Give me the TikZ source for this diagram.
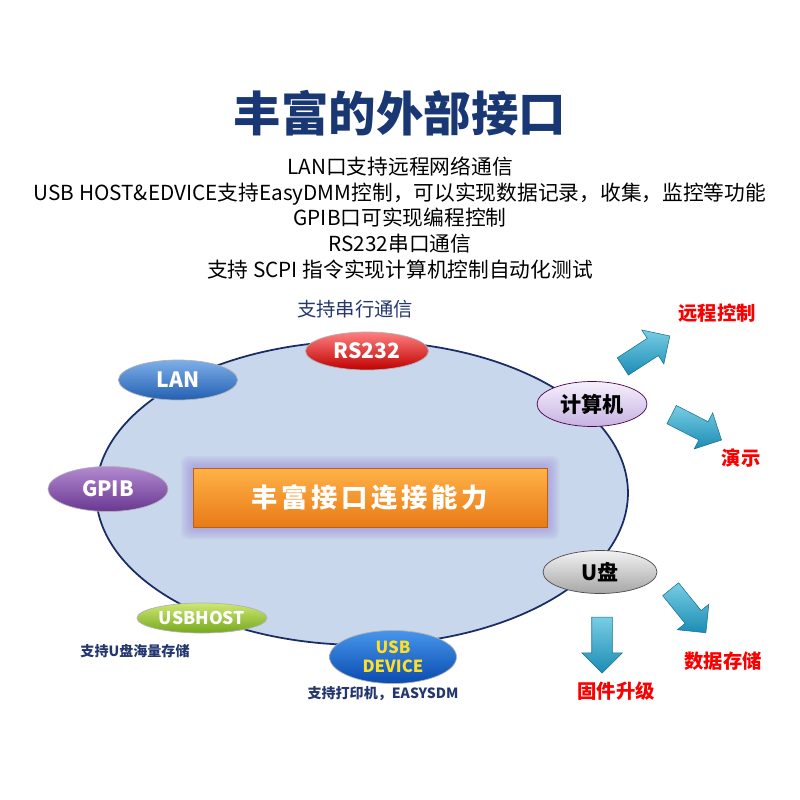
\documentclass[tikz,border=0pt]{standalone}
\usepackage{fontspec}
\setmainfont{Noto Sans CJK SC}
\usetikzlibrary{shapes.geometric,shapes.arrows,positioning}
\definecolor{titleblue}{RGB}{25,55,115}
\definecolor{notenavy}{RGB}{35,55,110}
\definecolor{ringfill}{RGB}{200,215,235}
\definecolor{ringline}{RGB}{25,45,100}
\definecolor{glowpurple}{RGB}{150,125,215}
\definecolor{boxtop}{RGB}{255,178,72}
\definecolor{boxbot}{RGB}{232,122,22}
\definecolor{arrowtop}{RGB}{120,205,228}
\definecolor{arrowbot}{RGB}{28,140,180}
\definecolor{hotred}{RGB}{250,0,0}
\definecolor{devyellow}{RGB}{255,222,40}

\tikzset{
  port/.style={ellipse,inner sep=0pt,draw=white!70!black,line width=0.4pt,
    text=white,font=\bfseries\fontsize{12}{12}\selectfont},
  note/.style={text=notenavy,font=\bfseries\fontsize{8}{9}\selectfont},
  goal/.style={text=hotred,font=\bfseries\fontsize{11}{12}\selectfont},
  blockarrow/.style={single arrow,single arrow head extend=0.2cm,inner sep=0.2cm,
    minimum height=1.12cm,draw=arrowbot!80!black,line width=0.3pt,
    top color=arrowtop,bottom color=arrowbot}
}

\begin{document}
\begin{tikzpicture}[x=0.02cm,y=-0.02cm]
  \fill[white] (0,0) rectangle (800,800);
  \useasboundingbox (0,0) rectangle (800,800);

  \node[text=titleblue,font=\bfseries\fontsize{27}{27}\selectfont] (title) at (400,113) {丰富的外部接口};
  \node[align=center,font=\fontsize{11.8}{14.6}\selectfont] (intro) at (400,218)
    {LAN口支持远程网络通信\\
     USB HOST\&EDVICE支持EasyDMM控制，可以实现数据记录，收集，监控等功能\\
     GPIB口可实现编程控制\\
     RS232串口通信\\
     支持 SCPI 指令实现计算机控制自动化测试};

  % ring of ports
  \node[ellipse,fill=ringfill,draw=ringline,line width=1pt,minimum width=10.64cm,minimum height=6.08cm] (ring) at (362,493) {};

  \foreach \g in {12,10,...,1}
    \fill[glowpurple,opacity=0.1,rounded corners=4pt] (193-\g,468-\g) rectangle (547+\g,527+\g);
  \node[draw=boxbot!80!black,line width=0.4pt,top color=boxtop,bottom color=boxbot,
    minimum width=7.08cm,minimum height=1.18cm,text=white,
    font=\bfseries\fontsize{15}{15}\selectfont\addfontfeature{LetterSpace=14}] (core) at (370,497.5) {丰富接口连接能力};

  \node[port,top color=red!50!white,bottom color=red!75!black,minimum width=2.46cm,minimum height=0.76cm] (rs) at (367,351) {RS232};
  \node[port,top color={rgb,255:red,125;green,175;blue,232},bottom color={rgb,255:red,35;green,95;blue,178},minimum width=2.38cm,minimum height=0.8cm] (lan) at (178,380) {LAN};
  \node[port,top color={rgb,255:red,178;green,138;blue,208},bottom color={rgb,255:red,105;green,55;blue,145},minimum width=2.4cm,minimum height=0.9cm] (gpib) at (108,489) {GPIB};
  \node[port,text=black,draw=violet!60!black,top color={rgb,255:red,246;green,240;blue,252},bottom color={rgb,255:red,198;green,178;blue,225},minimum width=2.2cm,minimum height=0.9cm] (pc) at (592,404) {计算机};
  \node[port,text=black,draw=black!70,top color=white!95!black,bottom color=black!35,minimum width=2.28cm,minimum height=0.86cm] (udisk) at (600,572) {U盘};
  \node[port,top color={rgb,255:red,205;green,232;blue,115},bottom color={rgb,255:red,118;green,168;blue,28},font=\bfseries\fontsize{10}{10}\selectfont,minimum width=2.6cm,minimum height=0.6cm] (host) at (202,618) {USBHOST};
  \node[port,align=center,text=devyellow,top color={rgb,255:red,70;green,150;blue,235},bottom color={rgb,255:red,10;green,75;blue,175},font=\bfseries\fontsize{9.5}{11}\selectfont,minimum width=2.54cm,minimum height=1.06cm] (dev) at (393,657) {USB\\DEVICE};

  \node[text=notenavy,font=\fontsize{11}{11}\selectfont] (serial) at (355,309) {支持串行通信};
  \node[note] (hostnote) at (135,651) {支持U盘海量存储};
  \node[note] (devnote) at (383,694) {支持打印机，EASYSDM};

  % arrows and goals
  \node[blockarrow,rotate=33] (toremote) at (642,354) {};
  \node[blockarrow,rotate=-27] (todemo) at (692,425) {};
  \node[blockarrow,rotate=-90] (tofirm) at (602,640) {};
  \node[blockarrow,rotate=-51] (tostore) at (685,607) {};

  \node[goal] (remote) at (717,313) {远程控制};
  \node[goal] (demo) at (741,458) {演示};
  \node[goal] (store) at (723,661) {数据存储};
  \node[goal] (firm) at (616,691) {固件升级};
\end{tikzpicture}
\end{document}
